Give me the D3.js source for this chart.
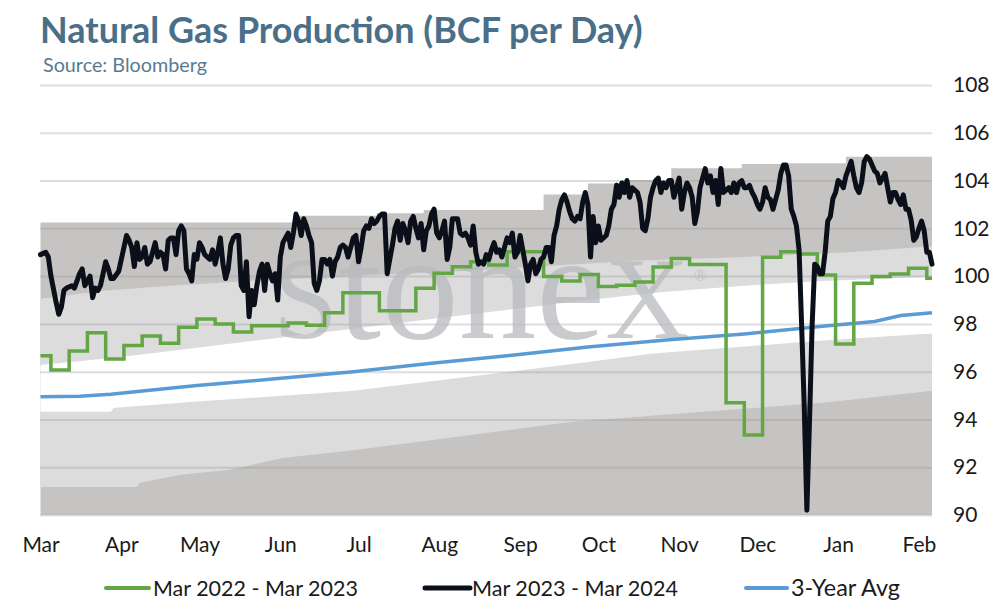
<!DOCTYPE html>
<html><head><meta charset="utf-8">
<script src="https://cdn.jsdelivr.net/npm/d3@7"></script>
<style>
body{margin:0;background:#fff;}
svg{display:block;font-family:Lato,"Open Sans",sans-serif;}
</style>
</head><body>
<svg id="chart" width="994" height="607"></svg>
<script>
// ---------- DATA (day offsets from 1 Mar) ----------
const title = "Natural Gas Production (BCF per Day)";
const subtitle = "Source: Bloomberg";
const seasonStart = [2023, 2, 1];
const monthTickFormat = "%b";
const yTicks = [90, 92, 94, 96, 98, 100, 102, 104, 106, 108];
const seriesNames = ["Mar 2022 - Mar 2023", "Mar 2023 - Mar 2024", "3-Year Avg"];

// Mar 2023 - Mar 2024 (daily)
const curDays = [0,2,3,4,6,7,8,9,10,12,13,15,16,17,18,19,20,21,22,23,24,25,26,27,28,30,31,32,33,34,35,36,37,38,39,40,41,42,43,44,45,46,47,48,49,50,51,52,53,54,55,56,57,58,59,60,61,62,63,65,66,67,68,69,70,71,72,73,74,75,76,77,78,79,80,81,82,83,84,85,86,87,88,89,90,91,92,93,94,95,96,97,98,99,100,101,102,103,104,105,106,107,108,109,110,111,112,113,114,115,116,117,118,119,120,121,122,123,124,125,126,127,128,129,130,131,132,133,134,135,136,137,138,139,140,141,142,143,144,145,146,147,148,149,150,151,152,153,154,155,156,157,158,159,160,161,162,163,164,165,166,167,168,169,170,171,172,173,174,175,176,177,178,179,180,181,182,183,184,185,186,187,188,189,190,191,192,193,194,195,196,197,198,199,200,201,202,203,204,205,206,207,208,209,210,211,212,213,214,215,216,217,218,219,220,221,222,223,224,225,226,227,228,229,230,231,232,233,234,235,236,237,238,239,240,241,242,243,244,245,246,247,248,249,250,251,252,253,254,255,256,257,258,259,260,261,262,263,264,265,266,267,268,269,270,271,272,273,274,275,276,277,278,279,280,281,282,283,284,285,286,287,288,289,290,291,292,293,294,295,296,297,298,299,300,301,302,303,304,305,306,307,308,309,311,312,313,314,315,316,317,318,319,320,321,322,323,324,325,326,327,328,329,330,331,332,333,334,335,336,337,338,339,340,341,342];
const curVals = [100.9,101.0,100.8,100.0,98.9,98.4,98.7,99.4,99.5,99.6,99.5,100.1,100.3,99.6,99.8,100.0,99.1,99.5,99.4,99.6,100.1,100.6,100.3,99.9,99.9,100.2,100.7,101.2,101.7,101.5,101.2,100.4,101.4,100.7,100.8,101.2,100.5,100.6,101.0,101.4,100.8,101.0,100.9,100.3,101.5,101.6,101.6,100.9,101.9,102.1,101.9,100.3,100.1,99.8,100.9,100.7,101.4,101.2,100.9,100.7,101.1,100.5,101.0,101.6,100.5,99.9,100.3,101.3,101.6,101.7,101.7,99.6,99.4,100.6,98.3,99.4,98.8,99.6,100.2,100.5,99.4,100.5,100.1,99.8,100.1,99.0,100.8,101.4,101.6,101.8,101.2,101.8,102.6,102.3,101.7,102.4,102.1,101.7,101.4,99.7,99.4,99.8,100.7,100.7,100.5,100.7,100.0,100.6,100.8,101.2,101.3,101.2,100.8,101.2,101.6,101.7,100.6,101.2,101.9,102.1,102.0,102.4,102.2,102.3,102.5,102.6,102.6,100.1,100.7,101.3,102.0,102.3,101.5,102.2,101.9,101.4,102.3,102.5,102.0,101.6,102.2,101.1,101.9,102.1,102.6,102.8,101.8,101.6,101.9,102.3,100.7,101.2,102.4,102.4,102.4,101.8,101.7,101.8,101.6,101.3,102.1,101.0,100.5,100.6,100.5,100.9,100.7,101.1,101.4,101.0,101.1,100.8,101.2,101.6,101.4,101.8,100.8,101.0,101.7,101.1,100.5,99.8,100.5,100.7,100.1,100.3,100.7,100.8,101.2,101.2,100.6,101.7,102.1,102.8,103.2,103.4,103.1,102.7,102.4,102.3,102.5,102.4,103.1,103.5,103.0,100.8,102.5,101.4,102.1,101.5,101.6,101.7,102.1,102.8,103.0,103.8,103.3,103.9,103.5,104.0,103.3,103.7,103.6,103.5,103.1,102.0,101.9,102.4,103.3,103.7,104.0,104.1,103.5,103.9,103.7,104.0,104.0,103.3,103.7,104.1,102.8,103.5,103.9,103.7,103.3,102.2,102.7,103.7,104.1,104.5,103.9,104.2,103.5,104.0,103.0,104.5,103.5,103.6,103.7,103.5,103.9,103.5,103.9,104.0,103.7,103.7,103.8,103.5,103.3,103.0,102.8,103.1,103.7,103.3,103.2,102.8,103.2,103.6,104.3,104.65,104.65,104.2,102.8,102.5,102.1,101.1,97.9,94.5,90.2,93.9,97.9,100.5,100.4,100.1,100.1,101.0,102.3,102.5,103.25,103.5,104.0,103.9,103.7,104.2,104.8,104.2,103.7,103.5,103.9,104.8,105.0,104.9,104.65,104.4,104.3,103.9,104.1,104.3,103.7,103.1,103.5,103.5,103.2,103.0,103.4,102.8,102.8,102.35,101.5,101.65,102.0,102.3,101.9,101.0,101.0,100.5];

// Mar 2022 - Mar 2023 (weekly values)
const prevDays = [0,4,11,18,25,32,39,46,53,60,67,74,81,88,95,102,109,116,123,130,137,144,151,158,165,172,179,186,193,200,207,214,221,228,235,242,249,256,263,270,277,284,291,298,305,312,319,326,333,340,342];
const prevVals = [96.67,96.07,96.86,97.63,96.53,97.10,97.49,97.19,97.86,98.20,98.00,97.66,97.92,97.92,98.04,97.94,98.47,99.30,99.30,98.55,98.55,99.49,100.12,100.39,100.60,100.46,101.02,101.02,99.98,99.80,100.07,99.56,99.62,99.75,100.38,100.74,100.49,100.49,94.70,93.35,100.79,101.02,100.93,100.05,97.16,99.70,99.98,100.09,100.33,99.91,99.91];

// 3-Year average
const avgDays = [0,15,27,40,60,90,120,150,180,210,240,270,300,320,330,342];
const avgVals = [94.95,94.97,95.05,95.2,95.42,95.7,96.0,96.35,96.68,97.03,97.33,97.58,97.9,98.1,98.35,98.47];

// Range bands (boundaries, bottom to top)
const bandMaxDays = [0,97,129,147,193,210,223,242,269,286,309,342];
const bandMaxVals = [102.24,102.53,102.63,102.77,103.42,103.88,104.02,104.51,104.69,104.72,105.0,105.0];
const bandUpperDays = [0,25,50,80,120,160,190,230,270,310,342];
const bandUpperVals = [99.05,99.4,99.6,99.8,100.0,100.2,100.4,100.65,100.8,101.0,101.25];
const bandMidHiDays = [0,30,60,90,120,150,180,210,240,270,300,342];
const bandMidHiVals = [96.28,96.6,97.0,97.4,97.8,98.2,98.6,99.0,99.35,99.6,99.8,99.97];
const bandMidLoDays = [0,27,28,60,119,150,180,210,234,270,300,342];
const bandMidLoVals = [94.32,94.32,94.48,94.75,95.19,95.6,96.0,96.4,96.75,97.05,97.3,97.6];
const bandLowDays = [0,37,38,53,72,93,119,160,204,234,300,342];
const bandLowVals = [91.17,91.17,91.35,91.67,91.88,92.39,92.7,93.28,93.9,94.15,94.7,95.2];

// ---------- CHART ----------
const svg = d3.select("#chart");
const start = new Date(seasonStart[0], seasonStart[1], seasonStart[2]);
const toDate = d => d3.timeDay.offset(start, d);
const zip = (ds, vs) => ds.map((d, i) => ({date: toDate(d), v: vs[i]}));

const x = d3.scaleTime().domain([start, toDate(342)]).range([40.5, 932]);
const y = d3.scaleLinear().domain([90, 108]).range([515, 85]);

const dark = "#c6c4c2", light = "#dcdcdc";

// band layers
const stepArea = d3.area().curve(d3.curveStepAfter).x(d => x(d.date)).y0(y(90)).y1(d => y(d.v));
svg.append("path").datum(zip(bandMaxDays, bandMaxVals)).attr("d", stepArea).attr("fill", dark);

function bandBetween(loD, loV, hiD, hiV, fill){
  const days = Array.from(new Set([...loD, ...hiD])).sort((a,b)=>a-b);
  const lo = d3.scaleLinear().domain(loD).range(loV);
  const hi = d3.scaleLinear().domain(hiD).range(hiV);
  const area = d3.area().x(d => x(toDate(d))).y0(d => y(lo(d))).y1(d => y(hi(d)));
  svg.append("path").datum(days).attr("d", area).attr("fill", fill);
}
bandBetween(bandLowDays, bandLowVals, bandUpperDays, bandUpperVals, light);
bandBetween(bandMidLoDays, bandMidLoVals, bandMidHiDays, bandMidHiVals, "#ffffff");

// gridlines
svg.append("g").selectAll("line").data(yTicks).join("line")
  .attr("x1", 40).attr("x2", 932)
  .attr("y1", d => y(d) + 0.5).attr("y2", d => y(d) + 0.5)
  .attr("stroke", "#999").attr("stroke-opacity", 0.33).attr("stroke-width", 2);

// watermark
const wm = svg.append("text").attr("x", 273).attr("y", 338)
  .attr("font-family", "'Liberation Serif','DejaVu Serif',serif")
  .attr("fill", "#b8babe").attr("fill-opacity", 0.75);
wm.append("tspan").attr("font-size", 117).text("S");
wm.append("tspan").attr("font-size", 155).text("tone");
wm.append("tspan").attr("font-size", 117).text("X");
svg.append("text").attr("x", 694).attr("y", 281).attr("font-size", 17)
  .attr("font-family", "'Liberation Serif',serif").attr("fill", "#b8babe").attr("fill-opacity", 0.75).text("®");

// series lines
const line = d3.line().x(d => x(d.date)).y(d => y(d.v));
svg.append("path").datum(zip(avgDays, avgVals)).attr("d", line)
  .attr("fill", "none").attr("stroke", "#5b9bd5").attr("stroke-width", 3.5);
svg.append("path").datum(zip(prevDays, prevVals)).attr("d", d3.line().curve(d3.curveStepAfter).x(d => x(d.date)).y(d => y(d.v)))
  .attr("fill", "none").attr("stroke", "#62a744").attr("stroke-width", 3.5);
svg.append("path").datum(zip(curDays, curVals)).attr("d", line)
  .attr("fill", "none").attr("stroke", "#0a0f1a").attr("stroke-width", 5)
  .attr("stroke-linejoin", "round").attr("stroke-linecap", "round");

// axes
const xAxis = svg.append("g").attr("transform", `translate(0,${y(90)})`)
  .call(d3.axisBottom(x).ticks(d3.timeMonth.every(1)).tickFormat(d3.timeFormat(monthTickFormat)).tickSize(0).tickPadding(22));
xAxis.select(".domain").remove();
xAxis.selectAll("text").attr("font-size", 21).attr("fill", "#1a1a1a").attr("font-family", "Lato");

const yAxis = svg.append("g").attr("transform", "translate(932,0)")
  .call(d3.axisRight(y).tickValues(yTicks).tickSize(0).tickPadding(21));
yAxis.select(".domain").remove();
yAxis.selectAll("text").attr("font-size", 21).attr("fill", "#1a1a1a").attr("font-family", "Lato");

// titles
function fit(sel, w){
  const cur = sel.node().getComputedTextLength();
  const fs = parseFloat(sel.attr("font-size"));
  sel.attr("font-size", fs * w / cur);
}
const t = svg.append("text").attr("x", 40).attr("y", 43).attr("font-size", 31)
  .attr("font-weight", 700).attr("fill", "#4a7089").text(title);
fit(t, 603);
const s = svg.append("text").attr("x", 43).attr("y", 72).attr("font-size", 17)
  .attr("fill", "#577a92").text(subtitle);
fit(s, 164);

// legend
const legend = [
  {name: seriesNames[0], color: "#62a744", w: 4, x1: 106, x2: 149, tx: 153, tw: 205},
  {name: seriesNames[1], color: "#0a0f1a", w: 5, x1: 425, x2: 470, tx: 472, tw: 206},
  {name: seriesNames[2], color: "#5b9bd5", w: 4, x1: 746, x2: 787, tx: 791, tw: 109}
];
const lg = svg.append("g");
legend.forEach(l => {
  lg.append("line").attr("x1", l.x1).attr("x2", l.x2).attr("y1", 588).attr("y2", 588)
    .attr("stroke", l.color).attr("stroke-width", l.w).attr("stroke-linecap", "round");
  const tx = lg.append("text").attr("x", l.tx).attr("y", 596).attr("font-size", 20)
    .attr("fill", "#1a1a1a").text(l.name);
  fit(tx, l.tw);
});
</script>
</body></html>
